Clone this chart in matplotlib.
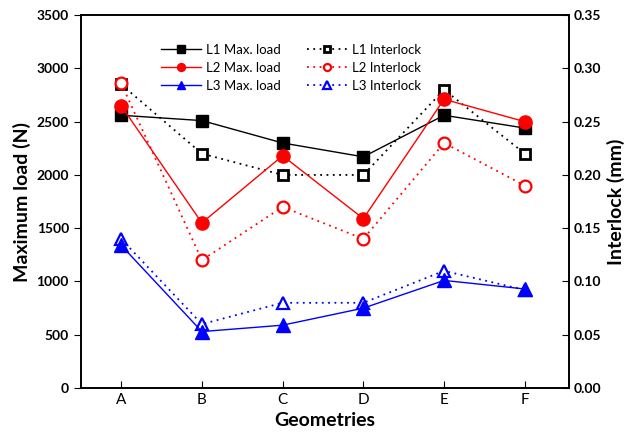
import matplotlib.pyplot as plt

plt.rcParams['font.family'] = ['Lato', 'DejaVu Sans']

geometries = ['A', 'B', 'C', 'D', 'E', 'F']

l1_load = [2560, 2510, 2300, 2170, 2560, 2440]
l2_load = [2650, 1550, 2180, 1590, 2710, 2500]
l3_load = [1340, 530, 590, 750, 1010, 930]

l1_inter = [0.285, 0.22, 0.20, 0.20, 0.28, 0.22]
l2_inter = [0.286, 0.12, 0.17, 0.14, 0.23, 0.19]
l3_inter = [0.14, 0.06, 0.08, 0.08, 0.11, 0.092]

x = list(range(len(geometries)))

fig = plt.figure(figsize=(6.41, 4.44), dpi=100)
ax = fig.add_axes([0.126, 0.126, 0.762, 0.84])
ax2 = ax.twinx()
ax.set_zorder(2)
ax.patch.set_visible(False)

dots = (0, (1, 2.5))
h4, = ax2.plot(x, l1_inter, color='black', marker='s', ms=7.5, mfc='white', mew=2,
               ls=dots, lw=1.3, label='L1 Interlock')
h5, = ax2.plot(x, l2_inter, color='red', marker='o', ms=8.5, mfc='white', mew=1.6,
               ls=dots, lw=1.3, label='L2 Interlock')
h6, = ax2.plot(x, l3_inter, color='blue', marker='^', ms=9, mfc='white', mew=1.6,
               ls=dots, lw=1.3, label='L3 Interlock')

h1, = ax.plot(x, l1_load, color='black', marker='s', ms=8.5, lw=1, label='L1 Max. load')
h2, = ax.plot(x, l2_load, color='red', marker='o', ms=9.5, lw=1, label='L2 Max. load')
h3, = ax.plot(x, l3_load, color='blue', marker='^', ms=9.5, lw=1, label='L3 Max. load')

ax.set_xlim(-0.5, 5.55)
ax.set_ylim(0, 3500)
ax2.set_ylim(0, 0.35)
ax.set_xticks(x)
ax.set_xticklabels(geometries, fontsize=11)
ax.set_yticks(range(0, 3501, 500))
ax2.set_yticks([i * 0.05 for i in range(8)])
ax2.set_yticklabels(['%.2f' % (i * 0.05) for i in range(8)])

for lab in ax.get_yticklabels() + ax2.get_yticklabels():
    lab.set_fontweight('bold')
    lab.set_fontsize(10)

ax.tick_params(axis='x', direction='in', length=5)
ax.tick_params(axis='y', direction='out', length=5)
ax2.tick_params(axis='y', direction='in', length=5)

ax.set_xlabel('Geometries', fontsize=14, fontweight='bold')
ax.set_ylabel('Maximum load (N)', fontsize=14, fontweight='bold')
ax2.set_ylabel('Interlock (mm)', fontsize=14, fontweight='bold')

for a in (ax, ax2):
    for s in a.spines.values():
        s.set_linewidth(1.2)

leg = ax.legend(handles=[h1, h2, h3, h4, h5, h6], ncol=2, frameon=False,
                loc='upper left', bbox_to_anchor=(0.14, 0.955), fontsize=9.5,
                markerscale=0.6, handlelength=3, handletextpad=0.4,
                columnspacing=2.0, labelspacing=0.45)

fig.savefig('out.png', dpi=100)
